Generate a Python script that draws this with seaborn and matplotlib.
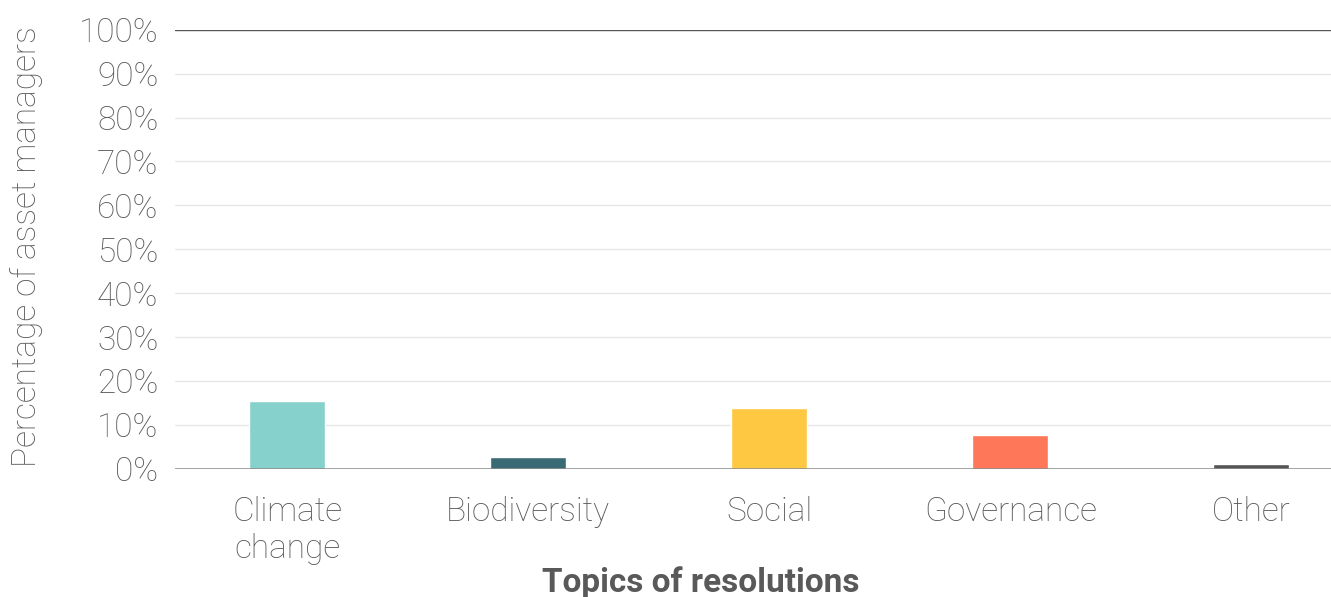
import matplotlib
matplotlib.use("Agg")
import matplotlib.pyplot as plt
import seaborn as sns
import pandas as pd

# Share of asset managers by resolution topic (%)
topics = ["Climate\nchange", "Biodiversity", "Social", "Governance", "Other"]
shares = [15.4, 2.7, 13.8, 7.7, 1.1]
colors = ["#86D1CB", "#3A6B75", "#FEC842", "#FF7759", "#555555"]
y_ticks = list(range(0, 101, 10))
y_tick_labels = [f"{v}%" for v in y_ticks]

df = pd.DataFrame({"topic": topics, "share": shares})

sns.set_theme(style="white")
plt.rcParams["font.family"] = ["Roboto", "DejaVu Sans"]

TEXT = "#595959"
FS = 24

fig = plt.figure(figsize=(13.31, 5.97), dpi=100)
ax = fig.add_axes([0.1315, 0.215, 0.8685, 0.735])

sns.barplot(data=df, x="topic", y="share", hue="topic", palette=colors,
            legend=False, width=0.315, saturation=1, ax=ax, zorder=3)

ax.set_ylim(0, 100)
ax.set_xlim(-0.465, 4.33)
ax.set_yticks(y_ticks)
ax.set_yticklabels(y_tick_labels)

# horizontal gridlines
for v in y_ticks[1:-1]:
    ax.axhline(v, color="#E6E6E6", lw=1.0, zorder=1)
ax.axhline(100, color="#555555", lw=1.0, zorder=2)
ax.axhline(0, color="#888888", lw=1.8, zorder=4)

for s in ax.spines.values():
    s.set_visible(False)

ax.tick_params(axis="both", length=0, labelsize=FS, colors=TEXT)
ax.tick_params(axis="y", pad=12)
ax.tick_params(axis="x", pad=20)
for lab in ax.get_xticklabels() + ax.get_yticklabels():
    lab.set_fontweight("light")
    lab.set_linespacing(1.2)

ax.set_xlabel("Topics of resolutions", fontsize=FS, fontweight="bold",
              color=TEXT)
ax.xaxis.set_label_coords(0.455, -0.222)
ax.set_ylabel("Percentage of asset managers", fontsize=FS, fontweight="light",
              color=TEXT)
ax.yaxis.set_label_coords(-0.114, 0.505)

fig.savefig("out.png", dpi=100)
